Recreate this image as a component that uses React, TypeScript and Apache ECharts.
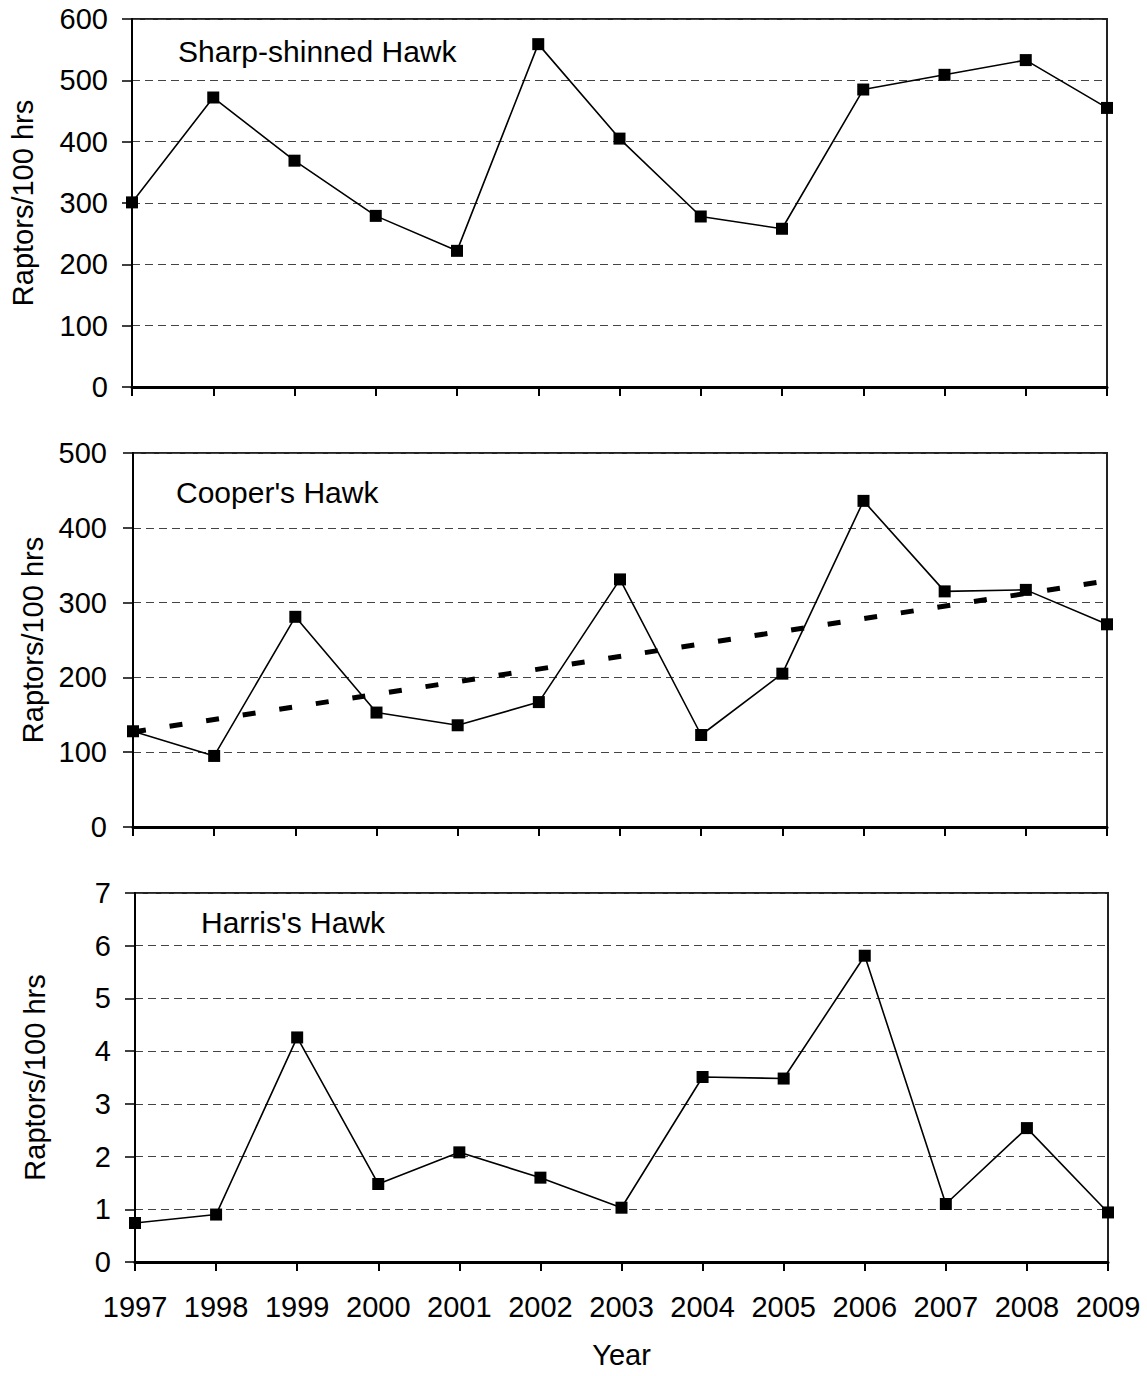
import React, { useEffect, useRef } from "react";
import * as echarts from "echarts";

const years = ["1997", "1998", "1999", "2000", "2001", "2002", "2003", "2004", "2005", "2006", "2007", "2008", "2009"];
const sharpShinned = [301, 472, 369, 279, 222, 559, 405, 278, 258, 485, 509, 533, 455];
const coopers = [128, 95, 281, 153, 136, 167, 331, 123, 205, 436, 315, 317, 271];
const coopersTrendYears = ["1997", "2009"];
const coopersTrend = [127, 329];
const harriss = [0.74, 0.9, 4.26, 1.48, 2.08, 1.6, 1.03, 3.51, 3.48, 5.81, 1.1, 2.54, 0.94];
const panelTitles = ["Sharp-shinned Hawk", "Cooper's Hawk", "Harris's Hawk"];
const yMax = [600, 500, 7];
const yInterval = [100, 100, 1];
const yName = "Raptors/100 hrs";
const xName = "Year";

const FONT = "'Liberation Sans', Arial, Helvetica, sans-serif";

export default function App() {
  const ref = useRef<HTMLDivElement>(null);
  useEffect(() => {
    if (!ref.current) return;
    const chart = echarts.init(ref.current, undefined, { renderer: "svg" });
    const grids = [
      { left: 132, top: 19, width: 975, height: 368 },
      { left: 133, top: 453, width: 974, height: 374 },
      { left: 135, top: 893, width: 973, height: 369 },
    ];
    const nameGaps = [95, 85, 86];
    const labelMargins = [24, 26, 24];
    const titlePos = [
      { left: 178, top: 36 },
      { left: 176, top: 477 },
      { left: 201, top: 907 },
    ];
    const option: any = {
      animation: false,
      backgroundColor: "#fff",
      title: panelTitles.map((t, i) => ({
        text: t,
        left: titlePos[i].left,
        top: titlePos[i].top,
        padding: 0,
        textStyle: { fontFamily: FONT, fontSize: 30, fontWeight: "normal", color: "#000" },
      })),
      grid: grids.map((g) => ({
        ...g,
        show: true,
        borderColor: "#222",
        borderWidth: 2,
        backgroundColor: "transparent",
      })),
      xAxis: grids.map((_, i) => ({
        type: "category",
        gridIndex: i,
        data: years,
        boundaryGap: false,
        axisLine: { show: true, lineStyle: { color: "#000", width: 3 } },
        axisTick: { show: true, inside: false, length: 9, lineStyle: { color: "#000", width: 2 } },
        axisLabel: {
          show: i === 2,
          fontFamily: FONT,
          fontSize: 29,
          color: "#000",
          margin: 30,
          interval: 0,
        },
        splitLine: { show: false },
        name: i === 2 ? xName : "",
        nameLocation: "middle",
        nameGap: 78,
        nameTextStyle: { fontFamily: FONT, fontSize: 29, color: "#000" },
      })),
      yAxis: grids.map((_, i) => ({
        type: "value",
        gridIndex: i,
        min: 0,
        max: yMax[i],
        interval: yInterval[i],
        axisLine: { show: true, lineStyle: { color: "#000", width: 2 } },
        axisTick: { show: true, inside: false, length: 10, lineStyle: { color: "#000", width: 1.5 } },
        axisLabel: { fontFamily: FONT, fontSize: 29, color: "#000", margin: labelMargins[i] },
        splitLine: { show: true, lineStyle: { color: "#444", width: 1, type: [8, 5] } },
        name: yName,
        nameLocation: "middle",
        nameRotate: 90,
        nameGap: nameGaps[i],
        nameTextStyle: { fontFamily: FONT, fontSize: 29, color: "#000" },
      })),
      series: [
        {
          type: "line",
          xAxisIndex: 0,
          yAxisIndex: 0,
          data: sharpShinned,
          symbol: "rect",
          symbolSize: 12,
          itemStyle: { color: "#000" },
          lineStyle: { color: "#000", width: 1.6 },
          z: 3,
        },
        {
          type: "line",
          xAxisIndex: 1,
          yAxisIndex: 1,
          data: coopers,
          symbol: "rect",
          symbolSize: 12,
          itemStyle: { color: "#000" },
          lineStyle: { color: "#000", width: 1.6 },
          z: 3,
        },
        {
          type: "line",
          xAxisIndex: 1,
          yAxisIndex: 1,
          data: coopersTrendYears.map((y, k) => [y, coopersTrend[k]]),
          symbol: "none",
          lineStyle: { color: "#000", width: 5, type: [13, 24] },
          z: 4,
        },
        {
          type: "line",
          xAxisIndex: 2,
          yAxisIndex: 2,
          data: harriss,
          symbol: "rect",
          symbolSize: 12,
          itemStyle: { color: "#000" },
          lineStyle: { color: "#000", width: 1.6 },
          z: 3,
        },
      ],
    };
    chart.setOption(option);
    return () => chart.dispose();
  }, []);
  return (
    <div
      ref={ref}
      style={{ position: "absolute", left: 0, top: 0, width: 1147, height: 1376, background: "#fff" }}
    />
  );
}
